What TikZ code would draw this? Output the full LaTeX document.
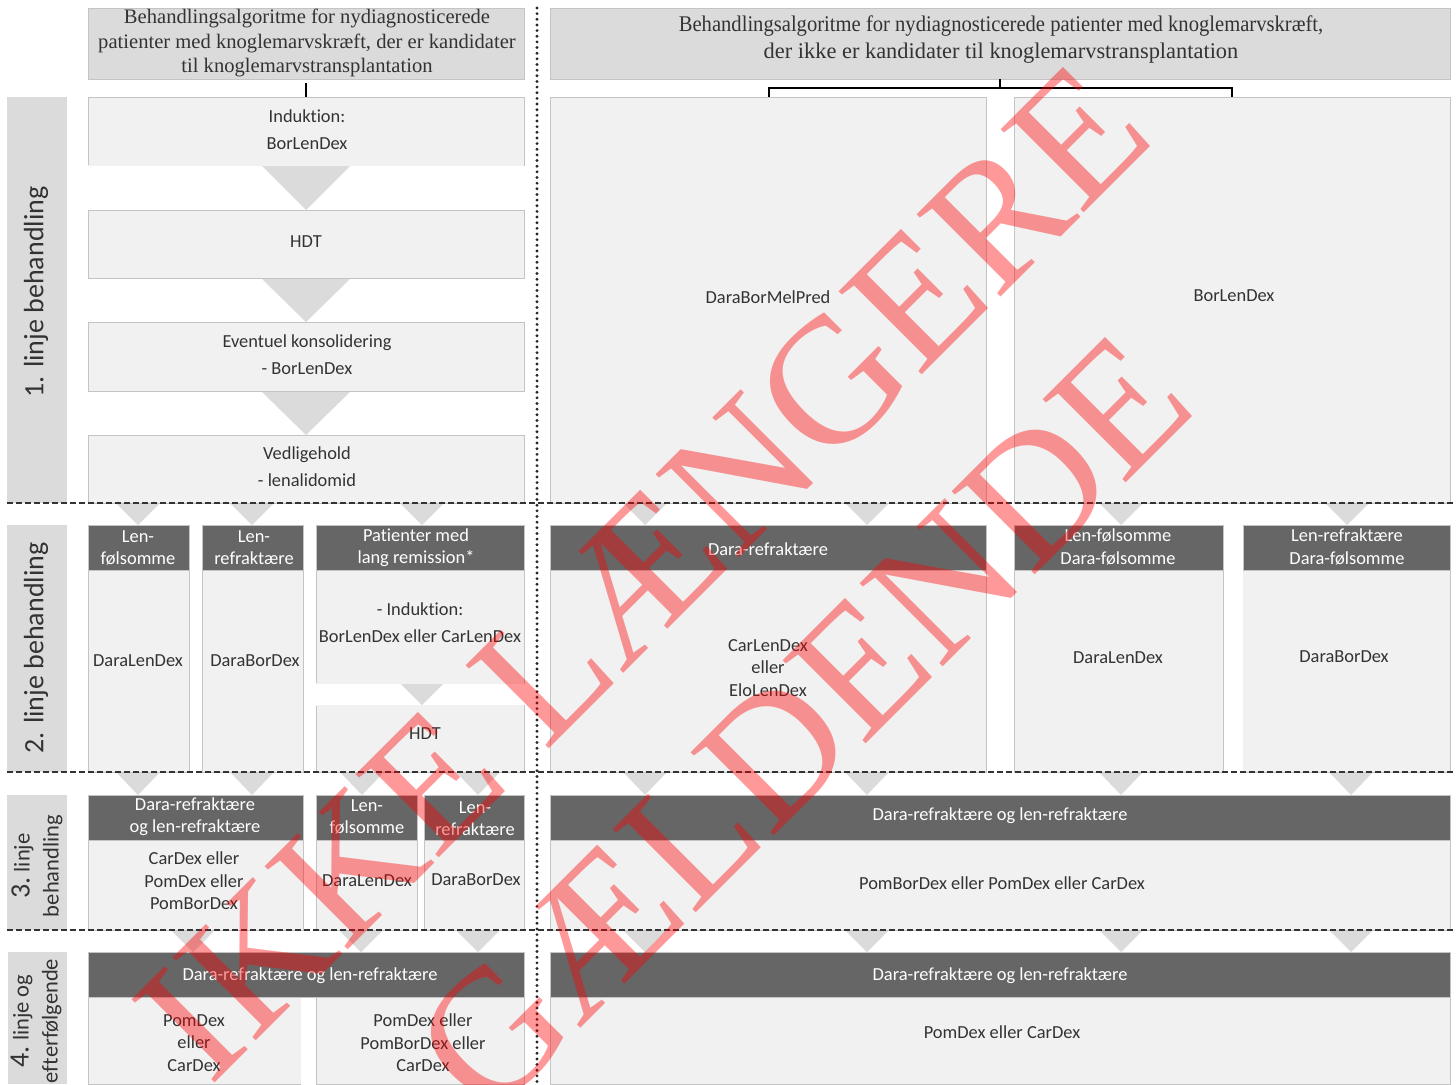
\documentclass[tikz,border=0pt]{standalone}
\usepackage{fontspec}
\setmainfont[Ligatures=NoCommon]{Carlito}
\newfontfamily\serifface{Liberation Serif}
\newfontfamily\narrowserif[FakeStretch=0.92]{Liberation Serif}
\definecolor{titlefill}{HTML}{DBDBDB}
\definecolor{bodyfill}{HTML}{F1F1F1}
\definecolor{headfill}{HTML}{666666}
\definecolor{edgeline}{HTML}{C4C4C4}
\definecolor{textdark}{HTML}{333333}
\definecolor{trifill}{HTML}{DBDBDB}
\tikzset{
  boxbase/.style={anchor=north west,inner sep=0pt,outer sep=0pt},
  titlebox/.style={boxbase,fill=titlefill,draw=edgeline,line width=.7pt},
  sidebox/.style={boxbase,fill=titlefill},
  bodybox/.style={boxbase,fill=bodyfill,draw=edgeline,line width=.6pt},
  headbox/.style={boxbase,fill=headfill,draw=edgeline,line width=.6pt},
  noedge/.style={draw=bodyfill,line width=1pt},
  bodytext/.style={inner sep=0pt,align=center,text=textdark,yshift=-.7pt,font=\fontsize{18.4}{22.5}\selectfont},
  headtext/.style={inner sep=0pt,align=center,text=white,yshift=-.7pt,font=\fontsize{18.4}{22.5}\selectfont},
  titletext/.style={inner sep=0pt,align=center,text=textdark,font=\serifface\fontsize{20.6}{24.8}\selectfont},
  sidetext/.style={inner sep=0pt,align=center,text=textdark,rotate=90,font=\fontsize{28}{31}\selectfont},
  sidesmall/.style={sidetext,font=\fontsize{22.5}{29}\selectfont},
  sep/.style={dash pattern=on 6pt off 3pt,line width=1.5pt,draw=black!80},
  divider/.style={line width=3.2pt,draw=black!85,dash pattern=on 0pt off 5.65pt,line cap=round},
  bracket/.style={line width=2pt,draw=black},
  stamp/.style={inner sep=0pt,text=red,text opacity=.4,font=\serifface\fontsize{179.5}{179.5}\selectfont},
}
\newcommand{\bx}[6]{\node[#2,minimum width={(#5-#3)*1pt},minimum height={(#6-#4)*1pt}] (#1) at (#3,#4) {};}
\newcommand{\tri}[4]{\fill[trifill] (#1-#4,#2) -- (#1+#4,#2) -- (#1,#3) -- cycle;}
\begin{document}
\begin{tikzpicture}[x=1pt,y=-1pt]
\useasboundingbox (0,0) rectangle (1456,1084);
\fill[white] (0,0) rectangle (1456,1084);
% triangles
\tri{306}{165}{210}{45}\tri{306}{278}{322}{45}\tri{306}{391}{435}{45}
\foreach \xx in {138,252,422,645,867,1121,1347}{\tri{\xx}{503}{525}{22}}
\tri{422}{683}{705}{22}
\foreach \xx in {138,252,362,478,645,867,1121,1351}{\tri{\xx}{772}{795}{22}}
\foreach \xx in {193,361,478,645,867,1121,1351}{\tri{\xx}{930}{952}{22}}
% titles
\bx{tl}{titlebox}{88}{8}{524}{79}
\bx{tr}{titlebox}{550}{8}{1450}{79}
\node[titletext] (tlt) at (307,43) {Behandlingsalgoritme for nydiagnosticerede\\patienter med knoglemarvskræft, der er kandidater\\til knoglemarvstransplantation};
\node[titletext,font=\serifface\fontsize{22.4}{27}\selectfont] (trt) at (1001,39.5) {{\narrowserif Behandlingsalgoritme for nydiagnosticerede patienter med knoglemarvskræft,}\\der ikke er kandidater til knoglemarvstransplantation};
% side labels
\bx{s1}{sidebox}{7}{97}{67}{503}
\bx{s2}{sidebox}{7}{525}{67}{772}
\bx{s3}{sidebox}{7}{795}{67}{930}
\bx{s4}{sidebox}{8}{952}{67}{1084}
\node[sidetext] (s1t) at (36,292) {1. linje behandling};
\node[sidetext] (s2t) at (36,648) {2. linje behandling};
\node[sidesmall] (s3t) at (37,866) {{\fontsize{28}{29}\selectfont 3.}\ linje\\behandling};
\node[sidesmall] (s4t) at (36,1021) {{\fontsize{28}{29}\selectfont 4.}\ linje og\\efterfølgende};
% line 1 left
\bx{a1}{bodybox}{88}{97}{524}{165}
\bx{a2}{bodybox}{88}{210}{524}{278}
\bx{a3}{bodybox}{88}{322}{524}{391}
\bx{a4}{bodybox}{88}{435}{524}{503}
\draw[noedge] (a1.south west) -- (a1.south east);
\node[bodytext] (a1t) at (307,129) {Induktion:\\[4.5pt]BorLenDex};
\node[bodytext] (a2t) at (306,241) {HDT};
\node[bodytext] (a3t) at (307,354) {Eventuel konsolidering\\[4.5pt]- BorLenDex};
\node[bodytext] (a4t) at (307,466) {Vedligehold\\[4.5pt]- lenalidomid};
% line 1 right
\bx{b1}{bodybox}{550}{97}{986}{503}
\bx{b2}{bodybox}{1014}{97}{1450}{503}
\node[bodytext] (b1t) at (768,296) {DaraBorMelPred};
\node[bodytext] (b2t) at (1234,295) {BorLenDex};
% line 2 left
\bx{c1}{bodybox}{88}{570}{189}{772}
\bx{c2}{bodybox}{202}{570}{303}{772}
\bx{c3}{bodybox}{316}{570}{524}{683}
\bx{c4}{bodybox}{316}{705}{524}{772}
\draw[noedge] (c3.south west) -- (c3.south east);
\draw[noedge] (c4.north west) -- (c4.north east);
\bx{ch1}{headbox}{88}{525}{189}{570}
\bx{ch2}{headbox}{202}{525}{303}{570}
\bx{ch3}{headbox}{316}{525}{524}{570}
\node[headtext] at (138,547) (ch1t) {Len-\\følsomme};
\node[headtext] at (254,547) (ch2t) {Len-\\refraktære};
\node[headtext] at (416,547) (ch3t) {Patienter med\\lang remission*};
\node[bodytext] (c1t) at (138,660) {DaraLenDex};
\node[bodytext] (c2t) at (255,660) {DaraBorDex};
\node[bodytext] (c3t) at (420,622) {- Induktion:\\[4.5pt]BorLenDex eller CarLenDex};
\node[bodytext] (c4t) at (425,733) {HDT};
% line 2 right
\bx{d1}{bodybox}{550}{570}{986}{772}
\bx{d2}{bodybox}{1014}{570}{1223}{772}
\bx{d3}{bodybox}{1243}{570}{1450}{772}
\draw[noedge] (d3.north west) -- (d3.south west);
\bx{dh1}{headbox}{550}{525}{986}{570}
\bx{dh2}{headbox}{1014}{525}{1223}{570}
\bx{dh3}{headbox}{1243}{525}{1450}{570}
\node[headtext] (dh1t) at (768,548) {Dara-refraktære};
\node[headtext] (dh2t) at (1118,546) {Len-følsomme\\Dara-følsomme};
\node[headtext] (dh3t) at (1347,546) {Len-refraktære\\Dara-følsomme};
\node[bodytext] (d1t) at (768,667) {CarLenDex\\eller\\EloLenDex};
\node[bodytext] (d2t) at (1118,657) {DaraLenDex};
\node[bodytext] (d3t) at (1344,656) {DaraBorDex};
% line 3 left
\bx{e1}{bodybox}{88}{840}{303}{930}
\bx{e2}{bodybox}{316}{840}{417}{930}
\bx{e3}{bodybox}{424}{840}{524}{930}
\bx{eh1}{headbox}{88}{795}{303}{840}
\bx{eh2}{headbox}{316}{795}{417}{840}
\bx{eh3}{headbox}{424}{795}{524}{840}
\node[headtext] (eh1t) at (195,816) {Dara-refraktære\\og len-refraktære};
\node[headtext] (eh2t) at (367,816) {Len-\\følsomme};
\node[headtext] (eh3t) at (475,818) {Len-\\refraktære};
\node[bodytext] (e1t) at (194,880) {CarDex eller\\PomDex eller\\PomBorDex};
\node[bodytext] (e2t) at (367,880) {DaraLenDex};
\node[bodytext] (e3t) at (476,879) {DaraBorDex};
% line 3 right
\bx{f1}{bodybox}{550}{840}{1450}{930}
\bx{fh1}{headbox}{550}{795}{1450}{840}
\node[headtext] (fh1t) at (1000,815) {Dara-refraktære og len-refraktære};
\node[bodytext] (f1t) at (1002,882) {PomBorDex eller PomDex eller CarDex};
% line 4 left
\bx{g1}{bodybox}{88}{997}{300}{1084}
\bx{g2}{bodybox}{316}{997}{524}{1084}
\draw[noedge] (g1.north east) -- (g1.south east);
\bx{gh1}{headbox}{88}{952}{524}{997}
\node[headtext] (gh1t) at (310,975) {Dara-refraktære og len-refraktære};
\node[bodytext] (g1t) at (194,1042) {PomDex\\eller\\CarDex};
\node[bodytext] (g2t) at (423,1042) {PomDex eller\\PomBorDex eller\\CarDex};
% line 4 right
\bx{h1}{bodybox}{550}{997}{1450}{1084}
\bx{hh1}{headbox}{550}{952}{1450}{997}
\node[headtext] (hh1t) at (1000,975) {Dara-refraktære og len-refraktære};
\node[bodytext] (h1t) at (1002,1031) {PomDex eller CarDex};
% brackets
\coordinate (lstub) at (306,83);
\draw[bracket] (lstub) -- (a1.north -| lstub);
\coordinate (brl) at (769,88);
\coordinate (brr) at (1232,88);
\draw[bracket] (tr.south) -- (tr.south |- brl);
\draw[bracket] (brl |- b1.north) -- (brl) -- (brr) -- (brr |- b2.north);
% separators
\foreach \yy in {503,772,930}{\draw[sep] (7,\yy) -- (1456,\yy);}
\draw[divider] (537,8) -- (537,1084);
% watermark
\node[stamp,rotate=45,anchor=center] (w1) at (643,571.5) {IKKE LÆNGERE};
\node[stamp,rotate=45,anchor=center] (w2) at (803,724) {GÆLDENDE};
\end{tikzpicture}
\end{document}
